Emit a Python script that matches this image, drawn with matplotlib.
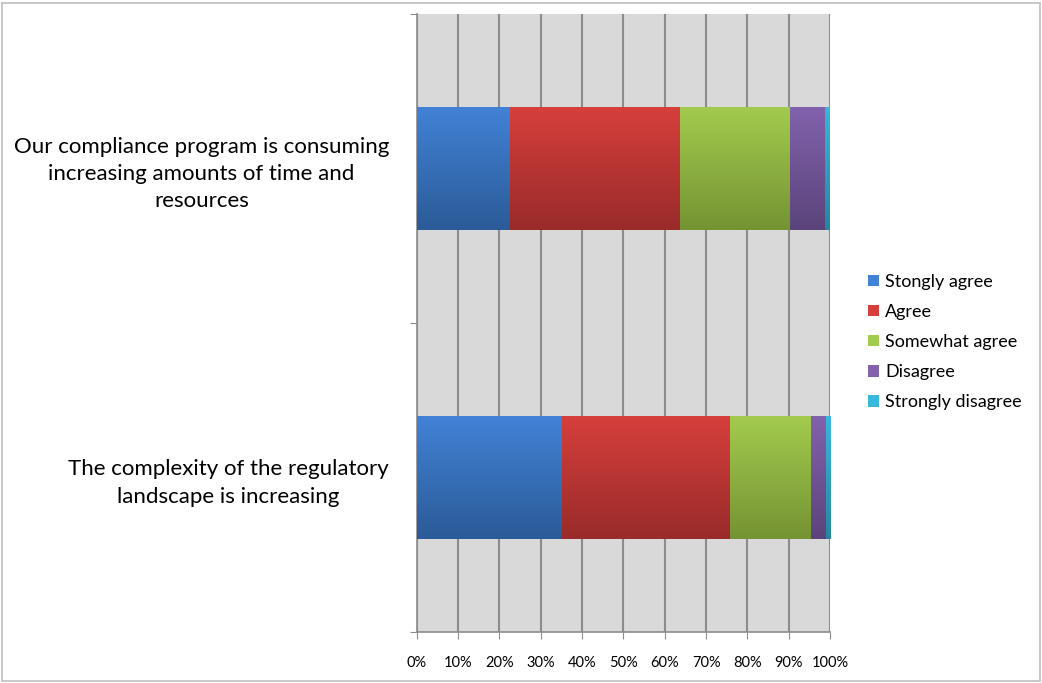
import numpy as np
from matplotlib import pyplot as plt
from matplotlib.patches import Rectangle
from matplotlib.colors import LinearSegmentedColormap

categories = ['The complexity of the regulatory\nlandscape is increasing',
              'Our compliance program is consuming\nincreasing amounts of time and\nresources']
series = ['Stongly agree', 'Agree', 'Somewhat agree', 'Disagree', 'Strongly disagree']
strongly_agree = [35.1, 22.5]
agree = [40.7, 41.2]
somewhat_agree = [19.6, 26.6]
disagree = [3.6, 8.5]
strongly_disagree = [1.0, 1.2]
tick_labels = ['0%', '10%', '20%', '30%', '40%', '50%', '60%', '70%', '80%', '90%', '100%']

values = [strongly_agree, agree, somewhat_agree, disagree, strongly_disagree]
# (top colour, bottom colour) for the fake excel gradient
grads = [('#4282d6', '#2b5b98'), ('#d63f3c', '#992b2a'), ('#a3cb4e', '#759333'),
         ('#8262ad', '#5b447b'), ('#38b8dc', '#26869f')]

plt.rcParams['font.family'] = ['Lato', 'DejaVu Sans']

fig = plt.figure(figsize=(10.42, 6.83), dpi=100)
fig.patches.append(Rectangle((0.002, 0.003), 0.996, 0.993, transform=fig.transFigure,
                             fill=False, edgecolor='#bfbfbf', lw=1.2))
ax = fig.add_axes([0.400, 0.0747, 0.3966, 0.905])
ax.set_facecolor('#d9d9d9')

ypos = np.arange(len(categories))
left = np.zeros(len(categories))
for i, vals in enumerate(values):
    vals = np.array(vals)
    bars = ax.barh(ypos, vals, height=0.4, left=left, color=grads[i][0],
                   label=series[i], zorder=3)
    cmap = LinearSegmentedColormap.from_list('g%d' % i, [grads[i][1], grads[i][0]])
    for b in bars:
        x0, y0 = b.get_x(), b.get_y()
        w, h = b.get_width(), b.get_height()
        im = ax.imshow(np.linspace(0, 1, 100).reshape(-1, 1), cmap=cmap, aspect='auto',
                       extent=[x0, x0 + w, y0, y0 + h], origin='lower', zorder=4)
        im.set_clip_path(b)
    left += vals

ax.set_xlim(0, 100)
ax.set_ylim(-0.5, 1.5)
ax.set_xticks(np.arange(0, 101, 10))
ax.set_xticklabels(tick_labels, fontsize=10.5)
ax.grid(axis='x', color='#8c8c8c', lw=1.5, zorder=1)
ax.set_yticks([-0.5, 0.5, 1.5])
ax.set_yticklabels([])
ax.set_yticks(ypos, minor=True)
ax.set_yticklabels(categories, minor=True, fontsize=16, ha='right',
                   multialignment='center', linespacing=1.45)
ax.tick_params(axis='y', which='minor', length=0, pad=20)
ax.tick_params(axis='y', which='major', length=5, color='#8c8c8c')
ax.tick_params(axis='x', length=5, color='#8c8c8c', pad=12)
for s in ['top', 'right']:
    ax.spines[s].set_visible(False)
for s in ['left', 'bottom']:
    ax.spines[s].set_color('#8c8c8c')
    ax.spines[s].set_linewidth(1.2)

ax.legend(loc='center left', bbox_to_anchor=(1.052, 0.469), frameon=False, fontsize=13,
          handlelength=0.6, handleheight=0.6, handletextpad=0.35, labelspacing=0.78)

plt.savefig('out.png', dpi=100)
